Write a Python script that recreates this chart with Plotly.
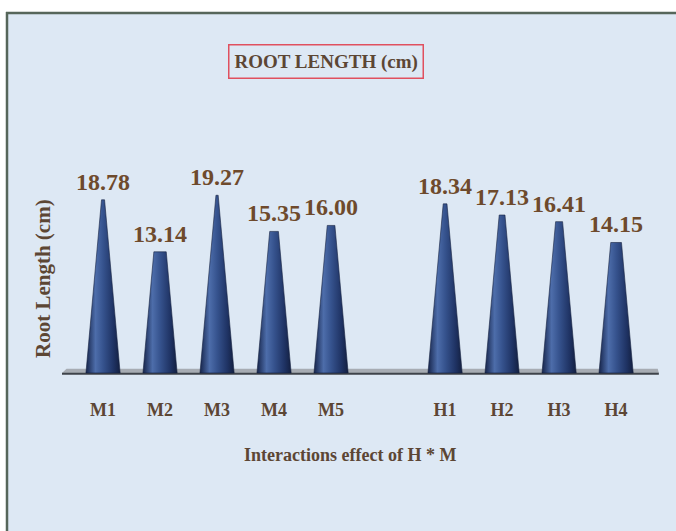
import plotly.graph_objects as go

# Root length (cm) for each H * M interaction treatment
categories = ["M1", "M2", "M3", "M4", "M5", "", "H1", "H2", "H3", "H4"]
root_length = [18.78, 13.14, 19.27, 15.35, 16.00, None, 18.34, 17.13, 16.41, 14.15]
value_labels = ["18.78", "13.14", "19.27", "15.35", "16.00", "", "18.34", "17.13", "16.41", "14.15"]

SERIF = "Liberation Serif, Times New Roman, serif"
TEXT = "#5c4634"
VALUE_TEXT = "#6e4a2c"

HALF_BASE = 0.30      # half width of a cone base, in category units
APEX = 20.6           # height at which every cone would close to a point

# plot area in pixels (used to place frame and titles in paper units)
L, R, T, B = 62, 660, 100, 380
PW, PH = R - L, B - T


def px_x(p):
    return (p - L) / PW


def px_y(p):
    return (B - p) / PH


cone_scale = [
    [0.0, "#16244a"],
    [0.28, "#4d6daa"],
    [0.5, "#36538e"],
    [0.8, "#1f3364"],
    [1.0, "#131f40"],
]

fig = go.Figure()

for i, v in enumerate(root_length):
    if v is None:
        continue
    top_half = HALF_BASE * (1 - v / APEX)
    xs = [i - HALF_BASE, i - top_half, i + top_half, i + HALF_BASE, i - HALF_BASE]
    ys = [0, v, v, 0, 0]
    fig.add_trace(go.Scatter(
        x=xs, y=ys, mode="lines", fill="toself",
        line=dict(color="#15213f", width=0.6),
        fillgradient=dict(type="horizontal", colorscale=cone_scale),
        hoverinfo="skip", showlegend=False,
    ))
    fig.add_annotation(
        x=i, y=v, text=f"<b>{value_labels[i]}</b>", showarrow=False,
        xanchor="center", yanchor="bottom", yshift=3,
        font=dict(family=SERIF, size=24, color=VALUE_TEXT),
    )

x_lo, x_hi = -0.72, 9.77

shapes = [
    # chart panel background and its frame
    dict(type="rect", xref="paper", yref="paper",
         x0=px_x(6), x1=px_x(676), y0=px_y(531), y1=px_y(12),
         fillcolor="#dde8f4", line=dict(width=0), layer="below"),
    dict(type="line", xref="paper", yref="paper",
         x0=px_x(6), x1=px_x(676), y0=px_y(13), y1=px_y(13),
         line=dict(color="#56665a", width=2.5), layer="below"),
    dict(type="line", xref="paper", yref="paper",
         x0=px_x(7), x1=px_x(7), y0=px_y(531), y1=px_y(12),
         line=dict(color="#56665a", width=2.5), layer="below"),
    # floor under the cones
    dict(type="path", xref="x", yref="y",
         path=f"M {x_lo} 0 L {x_lo + 0.08} 0.45 L {x_hi - 0.04} 0.45 L {x_hi - 0.02} 0 Z",
         fillcolor="#a7acb3", line=dict(width=0), layer="below"),
    dict(type="line", xref="x", yref="y", x0=x_lo, x1=x_hi - 0.02, y0=-0.08, y1=-0.08,
         line=dict(color="#3e434a", width=2.2), layer="below"),
]

# chart title in a red box
fig.add_annotation(
    xref="paper", yref="paper", x=px_x(326), y=px_y(61),
    xanchor="center", yanchor="middle",
    text="<b>ROOT LENGTH (cm)</b>", showarrow=False,
    font=dict(family=SERIF, size=19, color=TEXT),
    bordercolor="#e0505f", borderwidth=1.5, borderpad=5, bgcolor="rgba(0,0,0,0)",
)
# axis titles
fig.add_annotation(
    xref="paper", yref="paper", x=px_x(350), y=px_y(455),
    xanchor="center", yanchor="middle",
    text="<b>Interactions effect of H * M</b>", showarrow=False,
    font=dict(family=SERIF, size=18, color=TEXT),
)
fig.add_annotation(
    xref="paper", yref="paper", x=px_x(43), y=px_y(279),
    xanchor="center", yanchor="middle", textangle=-90,
    text="<b>Root Length (cm)</b>", showarrow=False,
    font=dict(family=SERIF, size=21, color=TEXT),
)

fig.update_layout(
    width=676, height=531,
    margin=dict(l=L, r=676 - R, t=T, b=531 - B),
    paper_bgcolor="white",
    plot_bgcolor="rgba(0,0,0,0)",
    shapes=shapes,
    xaxis=dict(
        range=[x_lo, x_hi],
        tickmode="array",
        tickvals=list(range(len(categories))),
        ticktext=[f"<b>{c}</b>" if c else "" for c in categories],
        tickfont=dict(family=SERIF, size=18, color=TEXT),
        ticks="", showgrid=False, zeroline=False, showline=False,
        ticklabelstandoff=17,
    ),
    yaxis=dict(
        range=[-0.76, 29.6],
        showticklabels=False, ticks="", showgrid=False, zeroline=False, showline=False,
    ),
)

fig.write_html("out.html")
